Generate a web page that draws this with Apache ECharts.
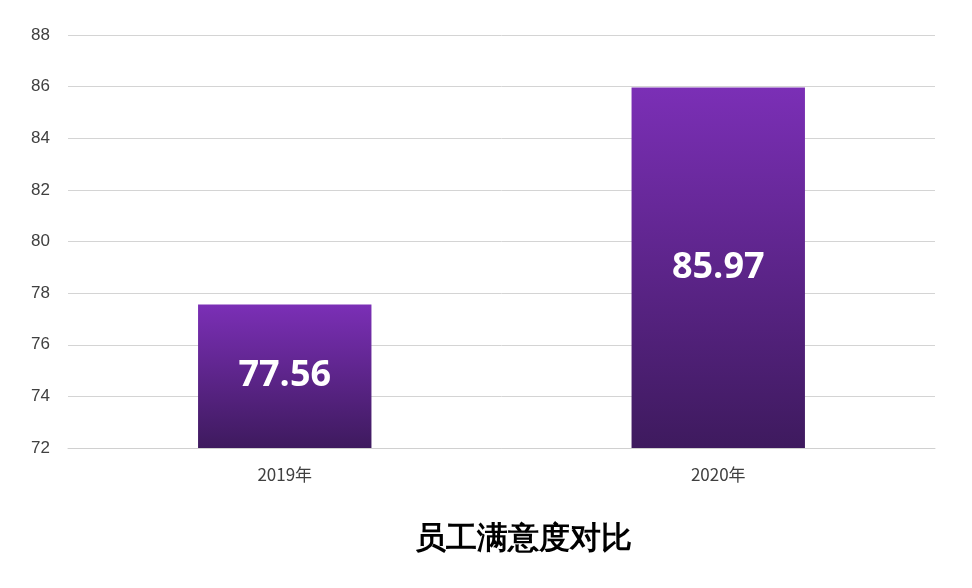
<!DOCTYPE html>
<html><head><meta charset="utf-8">
<script src="https://cdn.jsdelivr.net/npm/echarts@6/dist/echarts.min.js"></script>
<style>html,body{margin:0;padding:0;background:#fff}#c{width:972px;height:588px}</style>
</head><body><div id="c"></div>
<script>
const categories = ['2019年', '2020年'];
const values = [77.56, 85.97];
const chart = echarts.init(document.getElementById('c'));
chart.setOption({
  backgroundColor: '#fff',
  title: {text: '员工满意度对比', left: 410, bottom: 28,
    textStyle: {fontFamily: 'serif', fontWeight: 'bold', fontSize: 31, color: '#000'}},
  grid: {left: 68, right: 37, top: 35, bottom: 140},
  xAxis: {type: 'category', data: categories,
    axisLine: {lineStyle: {color: '#d0d0d0'}}, axisTick: {show: false},
    axisLabel: {color: '#404040', fontSize: 17, margin: 18, fontFamily: 'Noto Sans CJK SC'}},
  yAxis: {type: 'value', min: 72, max: 88, interval: 2,
    axisLine: {show: false}, axisTick: {show: false},
    splitLine: {lineStyle: {color: '#d4d4d4'}},
    axisLabel: {color: '#404040', fontSize: 17, margin: 18}},
  series: [{type: 'bar', data: values, barWidth: '40%',
    itemStyle: {color: new echarts.graphic.LinearGradient(0,0,0,1,[
      {offset: 0, color: '#7B2FB6'}, {offset: 1, color: '#3E1A5E'}])},
    label: {show: true, position: 'inside', color: '#fff', fontWeight: 'bold', fontSize: 36,
      fontFamily: 'Open Sans', formatter: p => p.value.toFixed(2)}}]
});
</script></body></html>
